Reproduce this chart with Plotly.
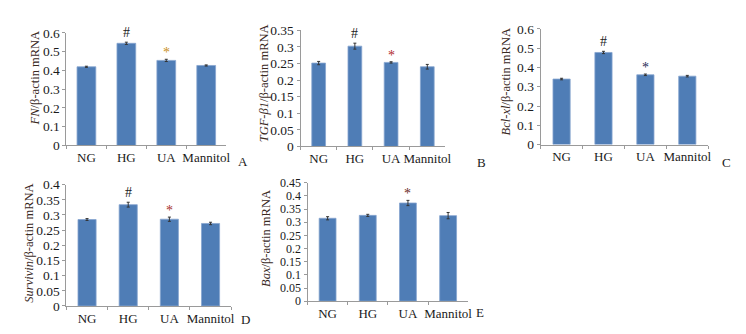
import plotly.graph_objects as go

W, H = 746, 334

categories = ["NG", "HG", "UA", "Mannitol"]

fn_vals = [0.419, 0.544, 0.453, 0.426]
fn_err = [0.003, 0.006, 0.006, 0.003]

tgf_vals = [0.251, 0.302, 0.253, 0.240]
tgf_err = [0.005, 0.009, 0.002, 0.007]

bcl_vals = [0.340, 0.478, 0.362, 0.355]
bcl_err = [0.004, 0.006, 0.004, 0.004]

surv_vals = [0.285, 0.334, 0.286, 0.272]
surv_err = [0.003, 0.008, 0.007, 0.004]

bax_vals = [0.315, 0.326, 0.373, 0.325]
bax_err = [0.006, 0.004, 0.010, 0.012]

y_titles = ["<i>FN</i>/β-actin mRNA", "<i>TGF-β1</i>/β-actin mRNA",
            "<i>Bcl-xl</i>/β-actin mRNA", "<i>Survivin</i>/β-actin mRNA",
            "<i>Bax</i>/β-actin mRNA"]
panel_letters = ["A", "B", "C", "D", "E"]
y_max = [0.6, 0.35, 0.6, 0.4, 0.45]
y_step = [0.1, 0.05, 0.1, 0.05, 0.05]
# significance marks: (category, symbol)
marks = [[("HG", "#"), ("UA", "*")],
         [("HG", "#"), ("UA", "*")],
         [("HG", "#"), ("UA", "*")],
         [("HG", "#"), ("UA", "*")],
         [("UA", "*")]]
star_colors = ["#C98F1C", "#B0282A", "#1E2A55", "#A8322C", "#6A2A1E"]

series = [(fn_vals, fn_err), (tgf_vals, tgf_err), (bcl_vals, bcl_err),
          (surv_vals, surv_err), (bax_vals, bax_err)]

# pixel boxes of each plot area: (x0, x1, ytop, ybottom)
boxes = [(67, 228, 27, 145), (303, 449, 24.3, 146), (545, 714, 23, 144),
         (67, 233, 186, 313), (310, 472, 184, 308)]
bar_widths = [0.47, 0.38, 0.41, 0.44, 0.42]
ytick_sizes = [13.5, 13.5, 13.5, 13.5, 12]
title_pos = [(35, 74), (267, 80), (511, 78), (29, 247), (268, 242)]
letter_pos = [(245, 162), (485, 163), (732, 163), (247, 327), (484, 320)]

BAR = "#4F7DB6"
SERIF = "Liberation Serif, Times New Roman, serif"

fig = go.Figure()
annotations = []
for i, ((vals, errs), box) in enumerate(zip(series, boxes)):
    x0, x1, yt, yb = box
    n = "" if i == 0 else str(i + 1)
    fig.add_trace(go.Bar(
        x=categories, y=vals, xaxis="x" + n, yaxis="y" + n,
        width=bar_widths[i],
        marker=dict(color=BAR, line=dict(color="#86A4CF", width=0.8)),
        error_y=dict(type="data", array=errs, color="#333333",
                     thickness=1, width=1.5),
        showlegend=False, hoverinfo="skip"))
    fig.layout["xaxis" + n] = dict(
        domain=[x0 / W, x1 / W], anchor="y" + n, type="category",
        showline=True, linecolor="#9a9a9a", linewidth=1,
        ticks="outside", tickson="boundaries", ticklen=3, tickcolor="#9a9a9a",
        tickangle=0,
        tickfont=dict(family=SERIF, size=13, color="#1a1a1a"),
        showgrid=False, zeroline=False, fixedrange=True)
    fig.layout["yaxis" + n] = dict(
        domain=[1 - yb / H, 1 - yt / H], anchor="x" + n,
        range=[0, y_max[i]], dtick=y_step[i], tick0=0,
        showline=True, linecolor="#9a9a9a", linewidth=1,
        ticks="outside", ticklen=3, tickcolor="#9a9a9a",
        tickfont=dict(family=SERIF, size=ytick_sizes[i], color="#1a1a1a"),
        showgrid=False, zeroline=False, fixedrange=True)
    tx, ty = title_pos[i]
    annotations.append(dict(
        x=tx / W, y=1 - ty / H, xref="paper", yref="paper",
        text=y_titles[i], textangle=-90, showarrow=False,
        font=dict(family=SERIF, size=12.5, color="#3a2a1f"),
        xanchor="center", yanchor="middle"))
    lx, ly = letter_pos[i]
    annotations.append(dict(
        x=lx / W, y=1 - ly / H, xref="paper", yref="paper",
        text=panel_letters[i], showarrow=False,
        font=dict(family=SERIF, size=13, color="#1a1a1a"),
        xanchor="center", yanchor="middle"))
    for cat, sym in marks[i]:
        k = categories.index(cat)
        col = "#222222" if sym == "#" else star_colors[i]
        annotations.append(dict(
            x=cat, y=vals[k] + errs[k], xref="x" + n, yref="y" + n,
            text=sym, showarrow=False, yanchor="bottom",
            yshift=0 if sym == "#" else -3,
            font=dict(family=SERIF, size=14, color=col)))

fig.update_layout(
    width=W, height=H, margin=dict(l=0, r=0, t=0, b=0),
    paper_bgcolor="white", plot_bgcolor="white",
    annotations=annotations, barmode="group")

fig.write_html("out.html",
               config={"displayModeBar": False, "staticPlot": True},
               post_script="document.body.style.margin='0';"
                           "document.body.style.overflow='hidden';")
